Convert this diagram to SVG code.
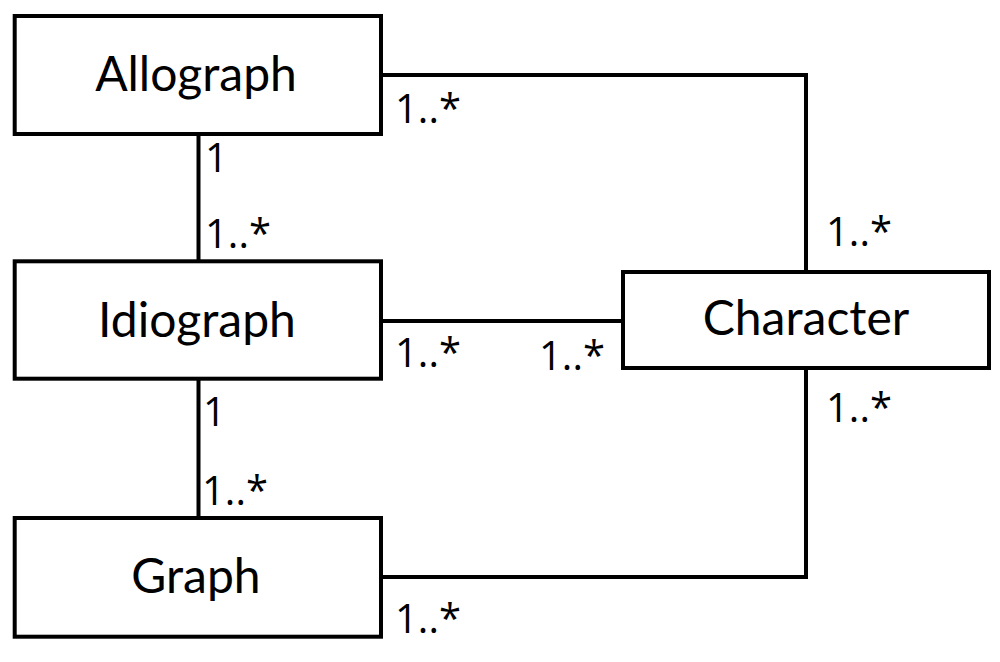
<svg xmlns="http://www.w3.org/2000/svg" width="1000" height="662" viewBox="0 0 1000 662">
<style>
.box{fill:#fff;stroke:#000;stroke-width:4}
.ln{fill:none;stroke:#000;stroke-width:4}
.nl{font-family:Lato,"Open Sans",sans-serif;font-size:48px;fill:#000;text-anchor:middle}
.ml{font-family:"Open Sans",Lato,sans-serif;font-size:40px;fill:#000}
</style>
<rect width="1000" height="662" fill="#fff"/>
<g id="connectors">
<polyline class="ln" points="381,75 806,75 806,272"/>
<line class="ln" x1="381" y1="321" x2="623" y2="321"/>
<polyline class="ln" points="381,577 806,577 806,368"/>
<line class="ln" x1="198.5" y1="134" x2="198.5" y2="261"/>
<line class="ln" x1="198.5" y1="379" x2="198.5" y2="518"/>
<text class="ml" x="395" y="123">1..*</text>
<text class="ml" x="205" y="172">1</text>
<text class="ml" x="205" y="248">1..*</text>
<text class="ml" x="826" y="246">1..*</text>
<text class="ml" x="395" y="367">1..*</text>
<text class="ml" x="539" y="370">1..*</text>
<text class="ml" x="203" y="426">1</text>
<text class="ml" x="202" y="505">1..*</text>
<text class="ml" x="826" y="422">1..*</text>
<text class="ml" x="395" y="633">1..*</text>
</g>
<g id="allograph">
<rect class="box" x="14.7" y="16" width="366.3" height="118"/>
<text class="nl" x="196" y="91">Allograph</text>
</g>
<g id="idiograph">
<rect class="box" x="14.7" y="261.3" width="366.3" height="117.4"/>
<text class="nl" x="197" y="337">Idiograph</text>
</g>
<g id="graph">
<rect class="box" x="14.7" y="518" width="366.3" height="118.7"/>
<text class="nl" x="196" y="593">Graph</text>
</g>
<g id="character">
<rect class="box" x="623" y="272" width="366" height="96"/>
<text class="nl" x="806" y="335">Character</text>
</g>
</svg>
